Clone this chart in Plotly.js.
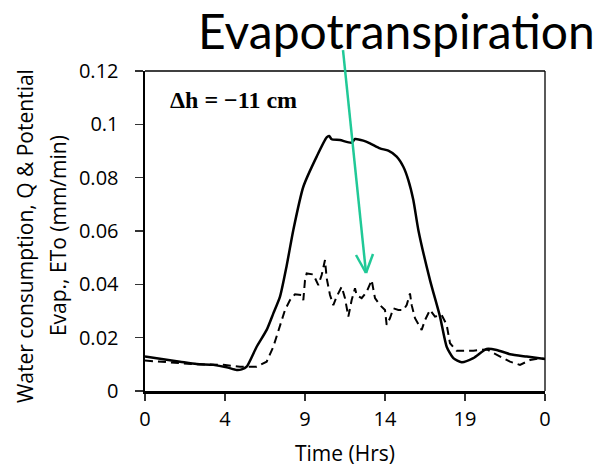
<!DOCTYPE html>
<html>
<head>
<meta charset="utf-8">
<script src="https://cdn.plot.ly/plotly-3.0.1.min.js"></script>
<style>html,body{margin:0;padding:0;background:#fff;}#chart{width:609px;height:467px;}</style>
</head>
<body>
<div id="chart"></div>
<script>
// Water consumption Q (solid)
var qTime = [0, 1.1, 2.1, 3.1, 4.1, 4.9, 5.5, 5.8, 6.1, 6.7, 7.3, 7.7, 8.1, 8.5, 8.9, 9.5, 10.3, 10.9, 11.05, 11.2, 11.7, 12.4, 12.6, 13.1, 13.5, 14.1, 14.6, 15.1, 15.5, 15.8, 16.1, 16.4, 17.1, 17.7, 18.1, 18.5, 19.0, 19.7, 20.5, 21.1, 21.9, 22.9, 24];
var qValues = [0.0129, 0.0119, 0.011, 0.0101, 0.0098, 0.0089, 0.0079, 0.0081, 0.0091, 0.0166, 0.0229, 0.0291, 0.0354, 0.047, 0.0604, 0.0766, 0.0879, 0.0951, 0.0956, 0.0944, 0.0941, 0.0931, 0.0945, 0.0939, 0.0929, 0.0910, 0.0901, 0.0879, 0.0841, 0.0791, 0.0716, 0.0604, 0.0416, 0.0279, 0.0166, 0.0123, 0.0108, 0.0123, 0.0158, 0.0154, 0.0138, 0.0129, 0.012];

// Potential evapotranspiration ETo (dashed)
var etoTime = [0, 1.1, 2.1, 3.1, 4.7, 5.7, 6.7, 7.3, 7.7, 8.0, 8.4, 8.7, 9.0, 9.4, 9.5, 9.6, 9.7, 10.1, 10.4, 10.6, 10.8, 10.9, 11.1, 11.3, 11.5, 11.8, 12.0, 12.2, 12.4, 12.6, 12.7, 13.0, 13.3, 13.6, 13.8, 14.1, 14.4, 14.5, 14.7, 14.9, 15.2, 15.5, 15.7, 15.9, 16.0, 16.2, 16.6, 16.8, 17.1, 17.4, 17.8, 18.1, 18.3, 18.7, 19.7, 20.5, 21.3, 21.9, 22.5, 23.1, 23.7, 24];
var etoValues = [0.0114, 0.0109, 0.0105, 0.0100, 0.0098, 0.0091, 0.0091, 0.011, 0.0166, 0.0229, 0.0304, 0.0341, 0.0363, 0.036, 0.0341, 0.0416, 0.0441, 0.0437, 0.0397, 0.0435, 0.0491, 0.0423, 0.036, 0.0322, 0.0354, 0.0391, 0.0348, 0.0279, 0.0341, 0.0385, 0.036, 0.0348, 0.0372, 0.0416, 0.0348, 0.0322, 0.0304, 0.0248, 0.0273, 0.031, 0.0304, 0.0304, 0.0322, 0.0366, 0.0322, 0.0273, 0.0229, 0.0266, 0.0304, 0.0279, 0.0285, 0.0248, 0.0179, 0.0151, 0.0151, 0.0156, 0.0131, 0.011, 0.0098, 0.0116, 0.0123, 0.012];

var xTickVals = [0, 4.8, 9.6, 14.4, 19.2, 24];
var xTickText = ['0', '4', '9', '14', '19', '0'];
var yTickVals = [0, 0.02, 0.04, 0.06, 0.08, 0.1, 0.12];
var yTickText = ['0', '0.02', '0.04', '0.06', '0.08', '0.1', '0.12'];

var chartTitle = 'Evapotranspiration';
var xTitle = 'Time (Hrs)';
var yTitle1 = 'Water consumption, Q &amp; Potential';
var yTitle2 = 'Evap., ETo (mm/min)';
var labelText = '\u0394h = \u221211 cm';

var traces = [
  {x: qTime, y: qValues, type: 'scatter', mode: 'lines',
   line: {color: '#000', width: 2.5, shape: 'spline', smoothing: 0.6}, hoverinfo: 'skip'},
  {x: etoTime, y: etoValues, type: 'scatter', mode: 'lines',
   line: {color: '#000', width: 2, dash: '8px,5px'}, hoverinfo: 'skip'}
];

var arrowColor = '#20c997';
var layout = {
  width: 609, height: 467,
  margin: {l: 145, r: 64, t: 71, b: 76},
  paper_bgcolor: '#fff', plot_bgcolor: '#fff',
  showlegend: false,
  font: {family: 'Open Sans, sans-serif', color: '#000'},
  xaxis: {
    range: [0, 24], tickvals: xTickVals, ticktext: xTickText,
    showgrid: false, zeroline: false, showline: true, linecolor: '#000', linewidth: 2.5,
    ticks: 'outside', ticklen: 7, tickwidth: 1.5, tickcolor: '#333',
    tickfont: {family: 'Open Sans, sans-serif', size: 20, color: '#000'},
    ticklabelstandoff: 1, fixedrange: true
  },
  yaxis: {
    range: [0, 0.12], tickvals: yTickVals, ticktext: yTickText,
    showgrid: false, zeroline: false, showline: true, linecolor: '#000', linewidth: 2.5,
    ticks: 'outside', ticklen: 8, tickwidth: 1.5, tickcolor: '#333',
    tickfont: {family: 'Open Sans, sans-serif', size: 20, color: '#000'},
    ticklabelstandoff: 12, fixedrange: true
  },
  shapes: [
    {type: 'line', xref: 'paper', yref: 'paper', x0: 0, x1: 1, y0: 1, y1: 1, line: {color: '#000', width: 1.3}},
    {type: 'line', xref: 'paper', yref: 'paper', x0: 1, x1: 1, y0: 0, y1: 1, line: {color: '#000', width: 1.3}},
    {type: 'line', xref: 'paper', yref: 'paper', x0: 0.495, y0: 1.0656, x1: 0.5525, y1: 0.3688, line: {color: arrowColor, width: 2.5}},
    {type: 'line', xref: 'paper', yref: 'paper', x0: 0.5275, y0: 0.425, x1: 0.5525, y1: 0.3688, line: {color: arrowColor, width: 2.5}},
    {type: 'line', xref: 'paper', yref: 'paper', x0: 0.57, y0: 0.428, x1: 0.5525, y1: 0.3688, line: {color: arrowColor, width: 2.5}}
  ],
  annotations: [
    {text: chartTitle, xref: 'paper', yref: 'paper', x: 0.629, y: 1.128, xanchor: 'center', yanchor: 'middle',
     showarrow: false, font: {family: 'Comic Sans MS, Lato, sans-serif', size: 48, color: '#000'}},
    {text: labelText, xref: 'paper', yref: 'paper', x: 0.0575, y: 0.909, xanchor: 'left', yanchor: 'middle',
     showarrow: false, font: {family: 'Liberation Serif, Times New Roman, serif', size: 24, color: '#000', weight: 'bold'}},
    {text: xTitle, xref: 'paper', yref: 'paper', x: 0.5, y: -0.194, xanchor: 'center', yanchor: 'middle',
     showarrow: false, font: {family: 'Open Sans, sans-serif', size: 21, color: '#000'}},
    {text: yTitle1, xref: 'paper', yref: 'paper', x: -0.3, y: 0.484, xanchor: 'center', yanchor: 'middle', textangle: -90,
     showarrow: false, font: {family: 'Open Sans, sans-serif', size: 21, color: '#000'}},
    {text: yTitle2, xref: 'paper', yref: 'paper', x: -0.2175, y: 0.484, xanchor: 'center', yanchor: 'middle', textangle: -90,
     showarrow: false, font: {family: 'Open Sans, sans-serif', size: 21, color: '#000'}}
  ]
};

Plotly.newPlot('chart', traces, layout, {displayModeBar: false, staticPlot: true});
</script>
</body>
</html>
